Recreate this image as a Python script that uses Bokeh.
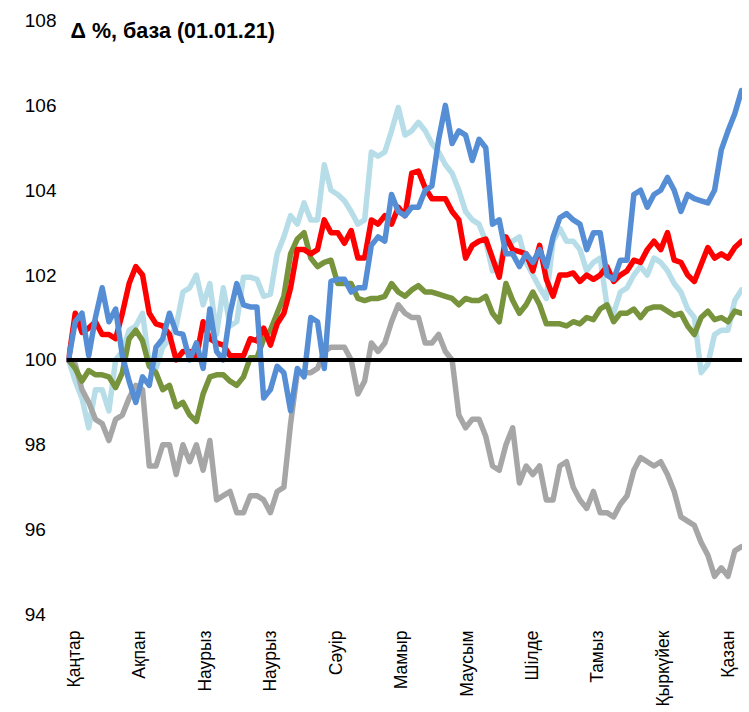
import math
from bokeh.plotting import figure
from bokeh.models import FixedTicker, Span, Label, Range1d
from bokeh.embed import file_html
from bokeh.resources import INLINE

months = ["Қаңтар", "Ақпан", "Наурыз", "Наурыз", "Сәуір", "Мамыр",
          "Маусым", "Шілде", "Тамыз", "Қыркүйек", "Қазан"]
y_ticks = [94, 96, 98, 100, 102, 104, 106, 108]
title_text = "Δ %, база (01.01.21)"

light_blue = [100.0, 99.5, 99.1, 98.4, 99.3, 99.3, 98.8, 100.0, 100.2, 100.7,
              100.8, 101.1, 99.9, 99.8, 100.3, 100.5, 100.8, 101.6, 101.7, 102.0,
              101.3, 101.8, 100.6, 101.7, 100.8, 100.9, 101.95, 101.95, 101.9, 101.5,
              101.55, 102.5, 102.9, 103.4, 103.2, 103.7, 103.3, 103.3, 104.6, 104.0,
              103.9, 103.75, 103.5, 103.2, 103.3, 104.9, 104.8, 104.9, 105.4, 105.95,
              105.3, 105.4, 105.6, 105.4, 105.1, 104.9, 104.6, 104.4, 104.0, 103.5,
              103.3, 103.2, 102.8, 102.1, 102.2, 102.8, 102.8, 102.9, 102.3, 102.0,
              101.7, 101.45, 102.8, 103.1, 102.8, 102.8, 102.6, 102.1, 102.3, 102.4,
              101.3, 101.1, 101.6, 101.7, 102.0, 102.2, 102.0, 102.4, 102.3, 102.1,
              101.8, 101.6, 101.2, 101.0, 99.7, 99.9, 100.6, 100.7, 100.7, 101.4,
              101.65]

gray = [100.0, 99.9, 99.3, 99.0, 98.6, 98.5, 98.1, 98.6, 98.7, 99.1,
        99.4, 99.3, 97.5, 97.5, 98.0, 98.0, 97.3, 98.0, 97.6, 98.0,
        97.4, 98.1, 96.7, 96.8, 96.9, 96.4, 96.4, 96.8, 96.8, 96.7,
        96.4, 96.9, 97.0, 98.5, 99.7, 99.7, 99.7, 99.8, 100.2, 100.3,
        100.3, 100.3, 100.0, 99.2, 99.5, 100.4, 100.2, 100.4, 100.9, 101.3,
        101.1, 101.0, 101.0, 100.4, 100.4, 100.6, 100.2, 100.0, 98.7, 98.4,
        98.6, 98.6, 98.2, 97.5, 97.4, 98.0, 98.4, 97.1, 97.5, 97.3,
        97.5, 96.7, 96.7, 97.5, 97.6, 97.0, 96.7, 96.5, 96.9, 96.4,
        96.4, 96.3, 96.6, 96.8, 97.4, 97.7, 97.6, 97.5, 97.6, 97.3,
        96.9, 96.3, 96.2, 96.1, 95.7, 95.4, 94.9, 95.1, 94.9, 95.5,
        95.6]

green = [100.0, 99.8, 99.5, 99.75, 99.65, 99.65, 99.6, 99.35, 99.7, 100.5,
         100.7, 100.45, 99.85, 99.7, 99.3, 99.4, 98.9, 99.0, 98.7, 98.55,
         99.2, 99.6, 99.65, 99.65, 99.5, 99.4, 99.6, 100.05, 100.05, 100.5,
         100.7, 101.1, 101.5, 102.5, 102.85, 103.0, 102.4, 102.2, 102.3, 102.35,
         101.8, 101.8, 101.8, 101.45, 101.4, 101.45, 101.45, 101.5, 101.8, 101.6,
         101.5, 101.65, 101.75, 101.6, 101.6, 101.55, 101.5, 101.45, 101.3, 101.45,
         101.4, 101.4, 101.5, 101.1, 100.9, 101.8, 101.4, 101.1, 101.3, 101.6,
         101.3, 100.85, 100.85, 100.85, 100.8, 100.9, 100.85, 101.0, 100.95, 101.2,
         101.3, 100.9, 101.1, 101.1, 101.2, 101.0, 101.2, 101.25, 101.25, 101.15,
         101.05, 101.1, 100.8, 100.6, 101.0, 101.15, 100.95, 101.0, 100.9, 101.15,
         101.1]

red = [100.0, 101.1, 100.65, 100.75, 100.9, 100.6, 100.6, 100.5, 101.1, 101.8,
       102.2, 102.0, 101.1, 100.85, 100.8, 100.6, 100.0, 100.2, 100.2, 100.05,
       100.9, 100.5, 100.4, 100.35, 100.1, 100.1, 100.1, 100.5, 100.45, 100.75,
       100.35, 100.85, 101.1, 101.7, 102.6, 102.6, 102.5, 102.6, 103.3, 103.0,
       103.0, 102.75, 103.05, 102.4, 102.4, 103.3, 103.2, 103.4, 103.2, 103.6,
       103.4, 104.4, 104.45, 104.05, 103.8, 103.8, 103.8, 103.5, 103.3, 102.4,
       102.7, 102.8, 102.85, 102.4, 101.95, 102.9, 102.6, 102.55, 102.5, 102.1,
       102.7, 101.9, 101.5, 102.0, 102.0, 102.05, 101.85, 102.0, 101.9, 102.0,
       102.2, 101.85, 102.0, 102.1, 102.35, 102.3, 102.6, 102.8, 102.6, 103.0,
       102.35, 102.3, 102.0, 101.85, 102.25, 102.65, 102.4, 102.5, 102.4, 102.65,
       102.8]

blue = [100.0, 100.9, 101.1, 100.1, 101.0, 101.7, 100.9, 101.2, 100.1, 99.5,
        99.0, 99.6, 99.4, 100.3, 100.5, 101.1, 100.65, 100.6, 100.0, 100.4,
        99.8, 101.2, 100.2, 100.0, 101.1, 101.8, 101.3, 101.25, 101.25, 99.1,
        99.3, 99.85, 99.7, 98.8, 99.8, 99.6, 101.0, 100.9, 99.8, 101.85,
        101.9, 101.9, 101.6, 101.7, 101.7, 102.7, 102.9, 102.8, 103.9, 103.5,
        103.4, 103.6, 103.6, 104.0, 104.1, 105.2, 106.0, 105.1, 105.4, 105.3,
        104.7, 105.2, 105.0, 103.2, 103.3, 102.5, 102.5, 102.2, 102.5, 102.3,
        102.6, 102.2, 102.9, 103.35, 103.45, 103.3, 103.2, 102.6, 103.0, 103.0,
        102.0, 101.9, 102.35, 102.35, 103.9, 104.0, 103.6, 103.9, 104.0, 104.3,
        104.0, 103.5, 103.9, 103.8, 103.75, 103.7, 104.0, 104.95, 105.4, 105.8,
        106.35]

# samples per month and offset of the first month label (in samples)
per_month = 9.72
first_tick = 0.82
n = len(gray)
x = [(i - first_tick) / per_month for i in range(n)]

p = figure(width=742, height=709, output_backend="svg", toolbar_location=None,
           x_range=Range1d((-0.3 - first_tick) / per_month, (100.15 - first_tick) / per_month),
           y_range=Range1d(94, 108),
           min_border_left=66, min_border_right=0, min_border_top=20, min_border_bottom=0)
p.background_fill_color = "white"
p.border_fill_color = "white"
p.outline_line_color = None
p.xgrid.visible = False
p.ygrid.visible = False

series = [
    (light_blue, "#B7DEE8"),
    (gray, "#A6A6A6"),
    (green, "#77933C"),
    (red, "#FF0000"),
    (blue, "#558ED5"),
]
for vals, col in series:
    p.line(x, vals, line_color=col, line_width=5.5, line_join="round", line_cap="round")

p.add_layout(Span(location=100, dimension="width", line_color="black", line_width=4))

# y axis
p.yaxis.ticker = FixedTicker(ticks=y_ticks)
p.yaxis.major_label_overrides = {t: (str(t) if t >= 100 else str(t) + "\u00a0\u00a0") for t in y_ticks}
p.yaxis.axis_line_color = None
p.yaxis.major_tick_line_color = None
p.yaxis.minor_tick_line_color = None
p.yaxis.major_tick_out = 0
p.yaxis.major_label_standoff = 10
p.yaxis.major_label_text_font = "Liberation Sans"
p.yaxis.major_label_text_font_size = "19px"
p.yaxis.major_label_text_color = "#000000"

# x axis
p.xaxis.ticker = FixedTicker(ticks=list(range(len(months))))
p.xaxis.major_label_overrides = {i: m for i, m in enumerate(months)}
p.xaxis.major_label_orientation = math.pi / 2
p.xaxis.axis_line_color = None
p.xaxis.major_tick_line_color = None
p.xaxis.minor_tick_line_color = None
p.xaxis.major_tick_out = 0
p.xaxis.major_label_standoff = 16
p.xaxis.major_label_text_font = "Liberation Sans"
p.xaxis.major_label_text_font_size = "17.5px"
p.xaxis.major_label_text_color = "#000000"

p.add_layout(Label(x=-0.053, y=107.75, text=title_text, text_font="Liberation Sans",
                   text_font_style="bold", text_font_size="21.5px", text_baseline="middle",
                   text_align="left", text_color="#000000"))

open("out.html", "w").write(file_html(p, INLINE))
